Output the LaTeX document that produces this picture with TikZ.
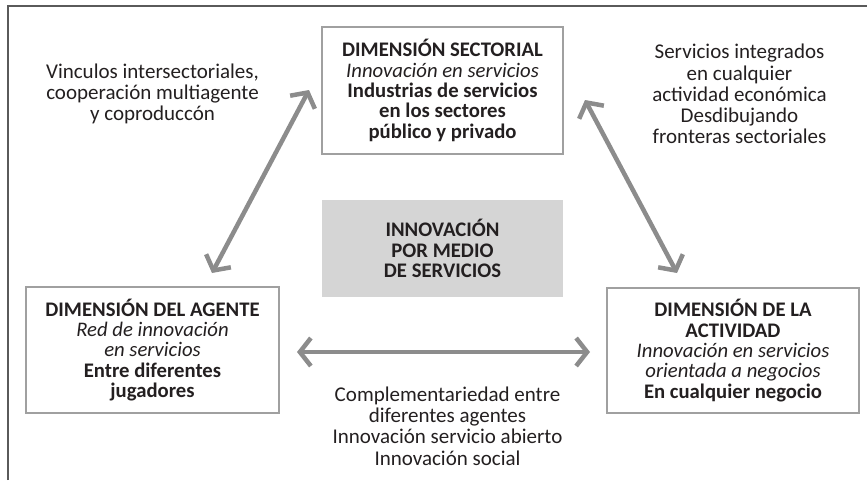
\documentclass[tikz,border=0pt]{standalone}
\usepackage{fontspec}
\setmainfont{Carlito}
\usetikzlibrary{arrows.meta}
\definecolor{txt}{HTML}{231F20}
\definecolor{boxgray}{HTML}{A0A0A0}
\definecolor{framegray}{HTML}{5A5A5A}
\definecolor{arrgray}{HTML}{8C8C8C}
\definecolor{centerfill}{HTML}{D5D5D5}
\begin{document}
\begin{tikzpicture}[x=1pt,y=-1pt,
  every node/.style={text=txt, align=center, inner sep=0pt, font=\fontsize{21}{21.2}\selectfont},
  dimbox/.style={draw=boxgray, line width=2pt, font=\fontsize{20.7}{20.4}\selectfont},
  centerbox/.style={fill=centerfill, font=\fontsize{20.7}{20.4}\selectfont},
  twoway/.style={draw=arrgray, line width=4.5pt,
    {Straight Barb[length=11pt,width=28pt]}-{Straight Barb[length=11pt,width=28pt]}}]
\useasboundingbox (0,0) rectangle (867,480);
\draw[framegray, line width=1.5pt] (8,480) -- (8,6) -- (867,6);

\node[dimbox, minimum width=241pt, minimum height=127pt] (sect) at (442.5,90.5)
  {\textbf{DIMENSIÓN SECTORIAL}\\\textit{Innovación en servicios}\\\textbf{Industrias de servicios}\\\textbf{en los sectores}\\\textbf{público y privado}};
\node[dimbox, minimum width=253pt, minimum height=126pt] (agent) at (152.5,350)
  {\textbf{DIMENSIÓN DEL AGENTE}\\\textit{Red de innovación}\\\textit{en servicios}\\\textbf{Entre diferentes}\\\textbf{jugadores}};
\node[dimbox, minimum width=252pt, minimum height=125pt] (activ) at (733,350.5)
  {\textbf{DIMENSIÓN DE LA}\\\textbf{ACTIVIDAD}\\\textit{Innovación en servicios}\\\textit{orientada a negocios}\\\textbf{En cualquier negocio}};
\node[centerbox, minimum width=241pt, minimum height=97pt] (center) at (442.5,248.5)
  {\textbf{INNOVACIÓN}\\\textbf{POR MEDIO}\\\textbf{DE SERVICIOS}};

\node (tl) at (152.5,94) {Vinculos intersectoriales,\\cooperación multiagente\\y coproduccón};
\node (tr) at (739.5,94) {Servicios integrados\\en cualquier\\actividad económica\\Desdibujando\\fronteras sectoriales};
\node (bt) at (447.5,426) {Complementariedad entre\\diferentes agentes\\Innovación servicio abierto\\Innovación social};

\coordinate (la) at (212,273);
\coordinate (lb) at (309,90);
\coordinate (ra) at (585,100);
\coordinate (rb) at (677,273);
\coordinate (ha) at (297,352);
\coordinate (hb) at (590,352);
\draw[twoway] (la) -- (lb);
\draw[twoway] (ra) -- (rb);
\draw[twoway] (ha) -- (hb);
\end{tikzpicture}
\end{document}
